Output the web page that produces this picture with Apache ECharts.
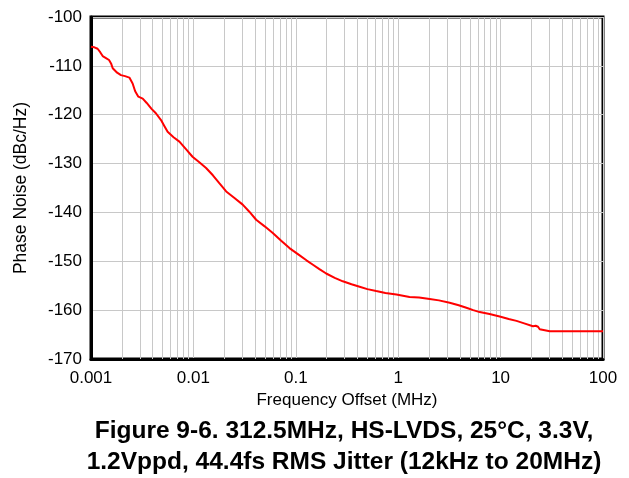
<!DOCTYPE html>
<html>
<head>
<meta charset="utf-8">
<script src="https://cdn.jsdelivr.net/npm/echarts@6/dist/echarts.min.js"></script>
<style>
  html, body { margin: 0; padding: 0; background: #fff; }
  #chart { width: 629px; height: 478px; }
</style>
</head>
<body>
<div id="chart"></div>
<script>
// frequency offset (MHz) and phase noise (dBc/Hz)
const freqs = [0.001, 0.00108, 0.00116, 0.00123, 0.0013, 0.0014, 0.0015, 0.00157, 0.00163, 0.0018, 0.00196,
  0.00215, 0.00237, 0.00255, 0.0027, 0.0029, 0.0032, 0.0035, 0.0039, 0.0043, 0.00483, 0.0052, 0.0056,
  0.0064, 0.0073, 0.0085, 0.0098, 0.0115, 0.0133, 0.0155, 0.0179, 0.0209, 0.025, 0.0303, 0.035, 0.041,
  0.05, 0.0596, 0.072, 0.0867, 0.109, 0.127, 0.147, 0.17, 0.198, 0.24, 0.288, 0.35, 0.42, 0.5, 0.61, 0.75,
  0.96, 1.29, 1.6, 2.03, 2.5, 3.18, 3.9, 4.63, 5.4, 6.25, 7.8, 9.8, 12, 14.3, 17, 20.7, 22, 23.2, 24.1,
  27, 30.2, 50, 100];
const noise = [-106.1, -106.2, -106.5, -107.2, -108.0, -108.4, -108.8, -109.5, -110.5, -111.4, -111.9,
  -112.1, -112.4, -113.6, -115.2, -116.3, -116.7, -117.6, -118.8, -119.7, -121.1, -122.3, -123.5,
  -124.6, -125.5, -127.1, -128.6, -129.8, -130.9, -132.4, -134.0, -135.7, -137.0, -138.4, -139.8, -141.5,
  -142.9, -144.2, -145.8, -147.3, -148.8, -149.8, -150.7, -151.6, -152.5, -153.4, -154.1, -154.7, -155.2, -155.7, -156.1, -156.5,
  -156.8, -157.3, -157.4, -157.7, -158.0, -158.5, -159.0, -159.5, -160.0, -160.4, -160.8, -161.3, -161.8, -162.2, -162.7, -163.3, -163.2, -163.4, -163.9,
  -164.1, -164.3, -164.3, -164.3];
const xTicks = ['0.001', '0.01', '0.1', '1', '10', '100'];
const decades = [0.001, 0.01, 0.1, 1, 10];
const minorMult = [2, 3, 4, 5, 6, 7, 8, 9];

const minorLines = [];
decades.forEach(d => minorMult.forEach(m => minorLines.push({ xAxis: +(d * m).toPrecision(3) })));

const chart = echarts.init(document.getElementById('chart'), null, { renderer: 'canvas' });

const font = 'Liberation Sans, Arial, sans-serif';

chart.setOption({
  animation: false,
  backgroundColor: '#fff',
  title: {
    text: 'Figure 9-6. 312.5MHz, HS-LVDS, 25°C, 3.3V,\n1.2Vppd, 44.4fs RMS Jitter (12kHz to 20MHz)',
    left: 339,
    textAlign: 'center',
    top: 411,
    textStyle: { fontFamily: font, fontWeight: 'bold', fontSize: 24.5, lineHeight: 31, color: '#000' }
  },
  grid: {
    left: 91, right: 26, top: 17, bottom: 119,
    show: true, borderColor: '#000', borderWidth: 3, backgroundColor: 'transparent'
  },
  xAxis: {
    type: 'log',
    logBase: 10,
    min: 0.001,
    max: 100,
    name: 'Frequency Offset (MHz)',
    nameLocation: 'middle',
    nameGap: 33,
    nameTextStyle: { fontFamily: font, fontSize: 17, color: '#000' },
    axisLine: { show: true, lineStyle: { color: '#000', width: 3 } },
    axisTick: { show: false },
    axisLabel: {
      fontFamily: font, fontSize: 17, color: '#000', margin: 11,
      formatter: v => xTicks.find(t => Math.abs(Math.log10(+t) - Math.log10(v)) < 1e-6) || ''
    },
    splitLine: { show: true, lineStyle: { color: '#c8c8c8', width: 1 } }
  },
  yAxis: {
    type: 'value',
    min: -170,
    max: -100,
    interval: 10,
    name: 'Phase Noise (dBc/Hz)',
    nameLocation: 'middle',
    nameGap: 61,
    nameTextStyle: { fontFamily: font, fontSize: 17.5, color: '#000' },
    axisLine: { show: true, lineStyle: { color: '#000', width: 3 } },
    axisTick: { show: false },
    axisLabel: { fontFamily: font, fontSize: 17, color: '#000', margin: 9 },
    splitLine: { show: true, lineStyle: { color: '#c8c8c8', width: 1 } }
  },
  series: [
    {
      type: 'line',
      data: freqs.map((f, i) => [f, noise[i]]),
      showSymbol: false,
      smooth: false,
      lineStyle: { color: '#ff0000', width: 2 },
      itemStyle: { color: '#ff0000' },
      z: 5,
      markLine: {
        silent: true,
        symbol: 'none',
        precision: 6,
        label: { show: false },
        lineStyle: { color: '#c8c8c8', width: 1, type: 'solid' },
        z: 1,
        data: minorLines
      }
    }
  ]
});
</script>
</body>
</html>
